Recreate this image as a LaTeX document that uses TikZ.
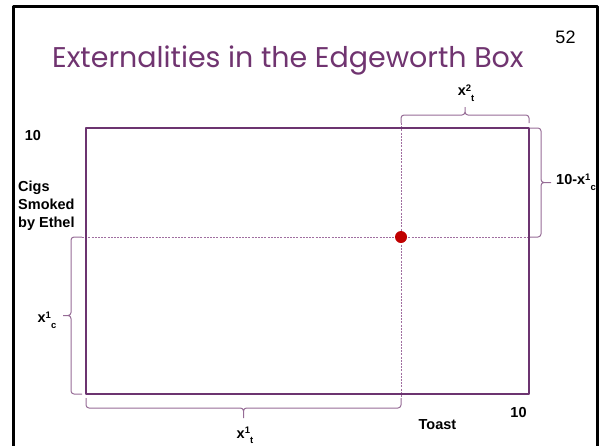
\documentclass[tikz,border=0pt]{standalone}
\usepackage{fontspec}
\setmainfont{Liberation Sans}
\newfontfamily\titlefont{Poppins}
\definecolor{boxpurple}{RGB}{108,52,112}
\definecolor{titlepurple}{RGB}{112,52,112}
\definecolor{bracepurple}{RGB}{150,108,150}
\definecolor{guidepurple}{RGB}{160,110,160}
\definecolor{dotred}{RGB}{192,0,0}
\newcommand{\xss}[2]{x\raisebox{0.55ex}{\fontsize{9.5}{10}\selectfont #1}\raisebox{-0.7ex}{\fontsize{9.5}{10}\selectfont #2}}
\tikzset{
  every picture/.style={line join=round},
  lbl/.style={font=\fontsize{14.5}{18}\selectfont\bfseries, inner sep=0pt},
  bracket/.style={draw=bracepurple, line width=1pt, rounded corners=3pt},
  guide/.style={draw=guidepurple, line width=0.8pt, dash pattern=on 2pt off 1.2pt},
}
\begin{document}
\begin{tikzpicture}[x=1pt,y=-1pt]
\useasboundingbox (0,0) rectangle (602,445);
\draw[line width=3pt](13.5,450)|-(597,6)--(597,450);
\node[anchor=base west,inner sep=0pt,text=titlepurple,font=\titlefont\fontsize{28.5}{30}\selectfont](title)at(52,67){Externalities in the Edgeworth Box};
\node[anchor=base,inner sep=0pt,font=\fontsize{18}{20}\selectfont](slide)at(565.5,43){52};
\coordinate(SW)at(86,394);
\coordinate(NE)at(529,128);
\coordinate(T1)at(401,123);
\coordinate(T2)at(401,398);
\coordinate(L1)at(82,237);
\coordinate(R1)at(530,237);
\draw[guide](T1)--(T2);
\draw[guide](L1)--(R1);
\draw[boxpurple,line width=2.6pt](SW)rectangle(NE);
\node[circle,fill=dotred,inner sep=0pt,minimum size=12pt](E)at(401,237){};
\coordinate(tipT)at(465,107);
\coordinate(tipR)at(551,182.5);
\coordinate(tipB)at(243.5,418);
\coordinate(tipL)at(63,315.5);
\draw[bracket](T1)|-(465,115)--(tipT)
(529,123)|-(465,115)--(tipT);
\draw[bracket](530,128)-|(541,182.5)--(tipR)
(R1)-|(541,182.5)--(tipR);
\draw[bracket](T2)|-(243.5,408)--(tipB)
(86,398)|-(243.5,408)--(tipB);
\draw[bracket](L1)-|(71,315.5)--(tipL)
(82,394)-|(71,315.5)--(tipL);
\node[lbl](xtwo)at(466,93){\xss{2}{t}};
\node[lbl,anchor=west](tenmx)at(556,182){10-\xss{1}{c}};
\node[lbl](xc)at(47,320){\xss{1}{c}};
\node[lbl](xt)at(245,435.5){\xss{1}{t}};
\node[lbl](tentop)at(33,136){10};
\node[lbl](tenright)at(518.5,412){10};
\node[lbl](toast)at(437.5,425){Toast};
\node[lbl,anchor=west,align=left](cigs)at(18,206){Cigs\\Smoked\\by Ethel};
\end{tikzpicture}
\end{document}
